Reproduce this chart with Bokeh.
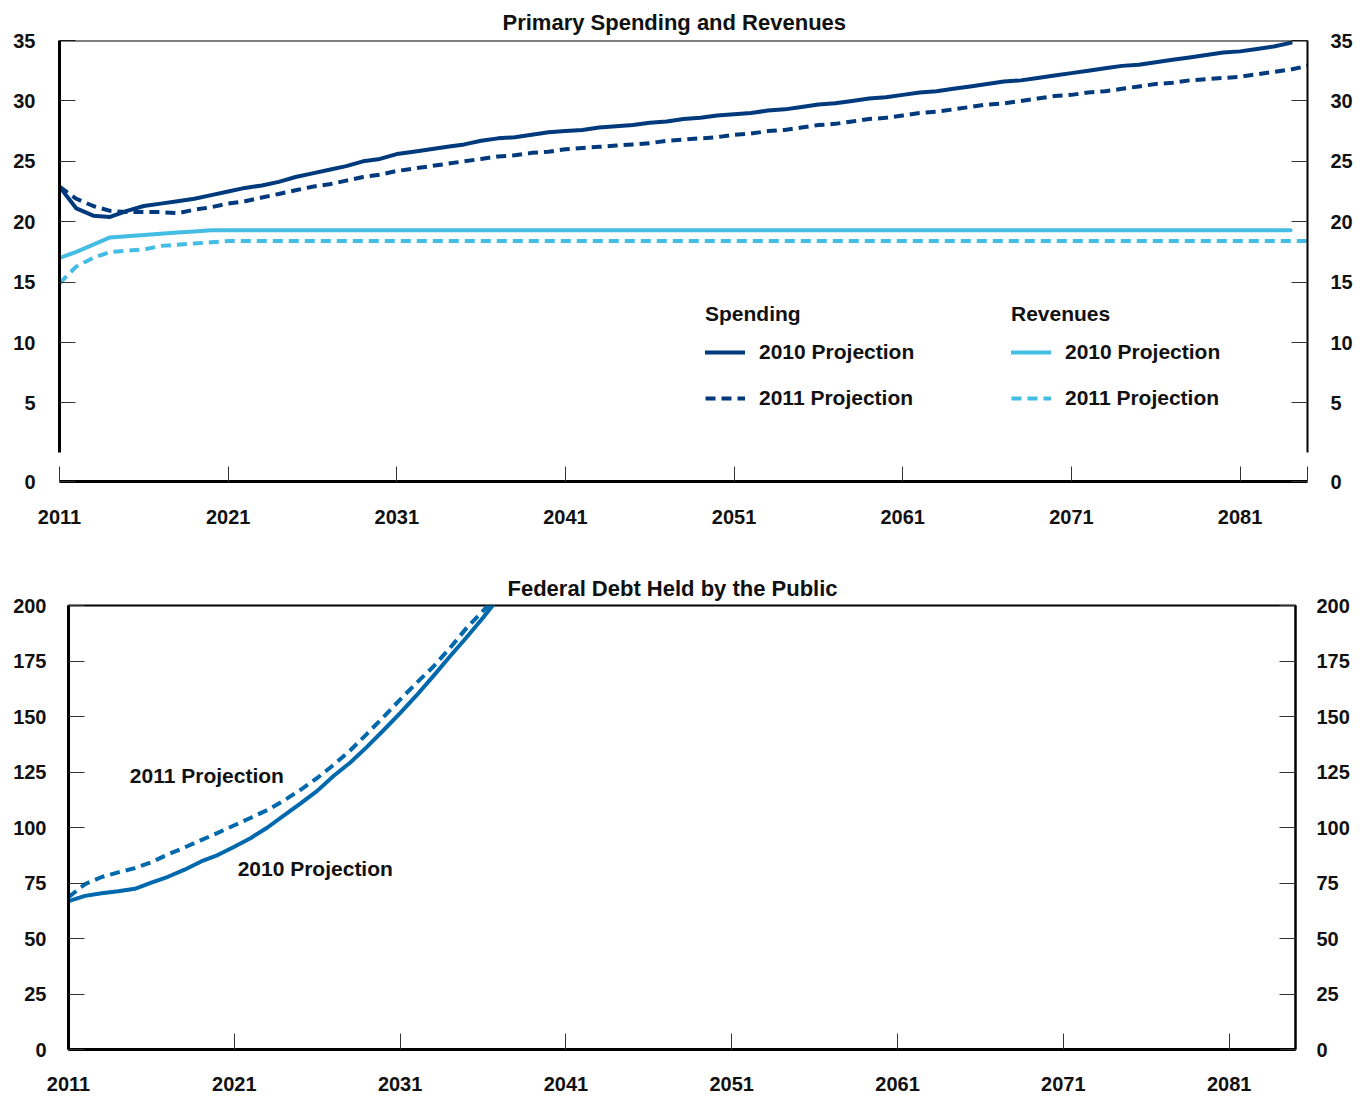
from bokeh.plotting import figure
from bokeh.models import (Range1d, LinearAxis, FixedTicker, Legend, LegendItem,
                          Label, Span)
from bokeh.embed import file_html
from bokeh.resources import INLINE

FONT = "Liberation Sans"
NAVY = "#003a7d"
LIGHT = "#44bde4"
MID = "#0068ad"
INK = "#111111"

# ---------------- data: Primary Spending and Revenues (% of GDP) ----------------
spend_2010_years = list(range(2011, 2085))
spend_2010 = [22.9, 21.1, 20.5, 20.4, 20.9, 21.3, 21.5, 21.7, 21.9, 22.2,
              22.5, 22.8, 23.0, 23.3, 23.7, 24.0, 24.3, 24.6, 25.0, 25.2,
              25.6, 25.8, 26.0, 26.2, 26.4, 26.7, 26.9, 27.0, 27.2, 27.4,
              27.5, 27.6, 27.8, 27.9, 28.0, 28.2, 28.3, 28.5, 28.6, 28.8,
              28.9, 29.0, 29.2, 29.3, 29.5, 29.7, 29.8, 30.0, 30.2, 30.3,
              30.5, 30.7, 30.8, 31.0, 31.2, 31.4, 31.6, 31.7, 31.9, 32.1,
              32.3, 32.5, 32.7, 32.9, 33.0, 33.2, 33.4, 33.6, 33.8, 34.0,
              34.1, 34.3, 34.5, 34.8]

spend_2011_years = list(range(2011, 2086))
spend_2011 = [22.9, 21.9, 21.3, 20.9, 20.8, 20.8, 20.8, 20.7, 21.0, 21.2,
              21.5, 21.7, 22.0, 22.3, 22.6, 22.9, 23.1, 23.4, 23.7, 23.9,
              24.2, 24.4, 24.6, 24.8, 25.0, 25.2, 25.4, 25.5, 25.7, 25.8,
              26.0, 26.1, 26.2, 26.3, 26.4, 26.5, 26.7, 26.8, 26.9, 27.0,
              27.2, 27.3, 27.5, 27.6, 27.8, 28.0, 28.1, 28.3, 28.5, 28.6,
              28.8, 29.0, 29.1, 29.3, 29.5, 29.7, 29.8, 30.0, 30.2, 30.4,
              30.5, 30.7, 30.8, 31.0, 31.2, 31.4, 31.5, 31.7, 31.8, 31.9,
              32.0, 32.2, 32.4, 32.6, 32.9]

rev_2010_years = [2011, 2012, 2013, 2014, 2015, 2016, 2017, 2018, 2019, 2020, 2084]
rev_2010 = [17.0, 17.5, 18.1, 18.7, 18.8, 18.9, 19.0, 19.1, 19.2, 19.3, 19.3]

rev_2011_years = [2011, 2012, 2013, 2014, 2015, 2016, 2017, 2018, 2019, 2020, 2021, 2085]
rev_2011 = [14.9, 16.3, 17.0, 17.5, 17.6, 17.7, 18.0, 18.1, 18.2, 18.3, 18.4, 18.4]

# ---------------- data: Federal Debt Held by the Public (% of GDP) ----------------
debt_years = list(range(2011, 2038))
debt_2010 = [66.8, 69.2, 70.4, 71.3, 72.4, 75.2, 77.8, 81.0, 84.7, 87.6,
             91.3, 95.3, 100.0, 105.5, 110.9, 116.5, 123.3, 129.3, 136.3, 143.8,
             151.5, 159.6, 168.2, 177.0, 185.6, 194.5, 204.0]
debt_2011 = [68.6, 74.5, 77.7, 79.8, 81.7, 84.4, 87.9, 91.0, 94.3, 97.6,
             101.0, 104.4, 107.9, 112.2, 117.0, 122.3, 128.3, 134.8, 142.2, 149.8,
             157.6, 165.2, 172.4, 180.8, 189.8, 197.6, 205.5]

x_ticks = [2011, 2021, 2031, 2041, 2051, 2061, 2071, 2081]
top_y_ticks = [5, 10, 15, 20, 25, 30, 35]
bottom_y_ticks = [0, 25, 50, 75, 100, 125, 150, 175, 200]

TOP_BASE = -1.5   # compressed baseline of the broken top axis, labelled "0"


def style_axis(ax, line_width=3):
    ax.axis_line_color = "black"
    ax.axis_line_width = line_width
    ax.major_tick_in = 16
    ax.major_tick_out = 0
    ax.minor_tick_line_color = None
    ax.major_tick_line_color = "#333333"
    ax.major_tick_line_width = 1
    ax.major_label_text_font = FONT
    ax.major_label_text_font_size = "20px"
    ax.major_label_text_font_style = "bold"
    ax.major_label_text_color = INK


def style_title(p, text, offset, standoff):
    p.title.text = text
    p.title.align = "left"
    p.title.offset = offset
    p.title.text_font = FONT
    p.title.text_font_size = "22px"
    p.title.text_font_style = "bold"
    p.title.text_color = INK
    p.title.standoff = standoff


def line_only_axis(width):
    ax = LinearAxis(ticker=FixedTicker(ticks=[]), bounds=(0.9, 35))
    ax.axis_line_color = "black"
    ax.axis_line_width = width
    ax.major_tick_in = 0
    ax.major_tick_out = 0
    ax.minor_tick_line_color = None
    ax.major_label_standoff = 0
    ax.major_label_text_font_size = "0px"
    return ax


# ================= top chart =================
p1 = figure(width=1366, height=540, x_range=Range1d(2011, 2085), y_range=Range1d(TOP_BASE, 35),
            output_backend="svg", toolbar_location=None,
            x_axis_type=None, y_axis_type=None,
            min_border_left=59, min_border_right=59, min_border_top=40, min_border_bottom=59)
p1.grid.visible = False
p1.outline_line_color = None
style_title(p1, "Primary Spending and Revenues", 443, 12)

xa1 = LinearAxis(ticker=FixedTicker(ticks=x_ticks + [2085]), major_label_overrides={2085: ""})
style_axis(xa1)
xa1.major_tick_in = 15
xa1.major_label_standoff = 28
p1.add_layout(xa1, "below")

# visible (broken) axis lines first, nearest the frame
p1.add_layout(line_only_axis(3), "left")
p1.add_layout(line_only_axis(2), "right")

ya1 = LinearAxis(ticker=FixedTicker(ticks=[TOP_BASE] + top_y_ticks),
                 major_label_overrides={TOP_BASE: "0"})
style_axis(ya1)
ya1.axis_line_color = None
ya1.major_label_standoff = 24
p1.add_layout(ya1, "left")

ya1r = LinearAxis(ticker=FixedTicker(ticks=[TOP_BASE] + top_y_ticks),
                  major_label_overrides={TOP_BASE: "0"})
style_axis(ya1r)
ya1r.axis_line_color = None
ya1r.major_label_standoff = 23
p1.add_layout(ya1r, "right")

p1.add_layout(Span(location=35, dimension="width", line_color="black", line_width=2))

r_sp10 = p1.line(spend_2010_years, spend_2010, line_color=NAVY, line_width=4, line_cap="round")
r_sp11 = p1.line(spend_2011_years, spend_2011, line_color=NAVY, line_width=4, line_dash="10 6")
r_rv10 = p1.line(rev_2010_years, rev_2010, line_color=LIGHT, line_width=4, line_cap="round")
r_rv11 = p1.line(rev_2011_years, rev_2011, line_color=LIGHT, line_width=4, line_dash="10 6")


def make_legend(title, r10, r11, loc):
    lg = Legend(items=[LegendItem(label="2010 Projection", renderers=[r10]),
                       LegendItem(label="2011 Projection", renderers=[r11])],
                title=title, location=loc, orientation="vertical")
    lg.border_line_color = None
    lg.background_fill_alpha = 0
    lg.padding = 0
    lg.margin = 0
    lg.glyph_width = 40
    lg.glyph_height = 24
    lg.label_height = 24
    lg.spacing = 22
    lg.label_standoff = 14
    lg.label_text_font = FONT
    lg.label_text_font_size = "21px"
    lg.label_text_font_style = "bold"
    lg.label_text_color = INK
    lg.title_text_font = FONT
    lg.title_text_font_size = "21px"
    lg.title_text_font_style = "bold"
    lg.title_text_color = INK
    lg.title_standoff = 14
    return lg


p1.add_layout(make_legend("Spending", r_sp10, r_sp11, (646, 71)))
p1.add_layout(make_legend("Revenues", r_rv10, r_rv11, (952, 71)))

# ================= bottom chart =================
p2 = figure(width=1366, height=559, x_range=Range1d(2011, 2085), y_range=Range1d(0, 200),
            output_backend="svg", toolbar_location=None,
            x_axis_type=None, y_axis_type=None,
            min_border_left=68, min_border_right=71, min_border_top=65, min_border_bottom=50)
p2.grid.visible = False
p2.outline_line_color = "black"
p2.outline_line_width = 2
style_title(p2, "Federal Debt Held by the Public", 439, 10)

xa2 = LinearAxis(ticker=FixedTicker(ticks=x_ticks))
style_axis(xa2)
xa2.major_label_standoff = 27
p2.add_layout(xa2, "below")

ya2 = LinearAxis(ticker=FixedTicker(ticks=bottom_y_ticks))
style_axis(ya2)
ya2.major_label_standoff = 22
p2.add_layout(ya2, "left")

ya2r = LinearAxis(ticker=FixedTicker(ticks=bottom_y_ticks))
style_axis(ya2r, 2)
ya2r.major_label_standoff = 21
p2.add_layout(ya2r, "right")

p2.line(debt_years, debt_2010, line_color=MID, line_width=4, line_cap="round")
p2.line(debt_years, debt_2011, line_color=MID, line_width=4, line_dash="10 6")

for txt, xx, yy in [("2011 Projection", 2014.7, 123.4), ("2010 Projection", 2021.2, 81.5)]:
    p2.add_layout(Label(x=xx, y=yy, text=txt, text_align="left", text_baseline="middle",
                        text_font=FONT, text_font_size="21px", text_font_style="bold",
                        text_color=INK))

# two separate roots so that the two plot frames are not aligned to each other
open("out.html", "w").write(file_html([p1, p2], INLINE))
